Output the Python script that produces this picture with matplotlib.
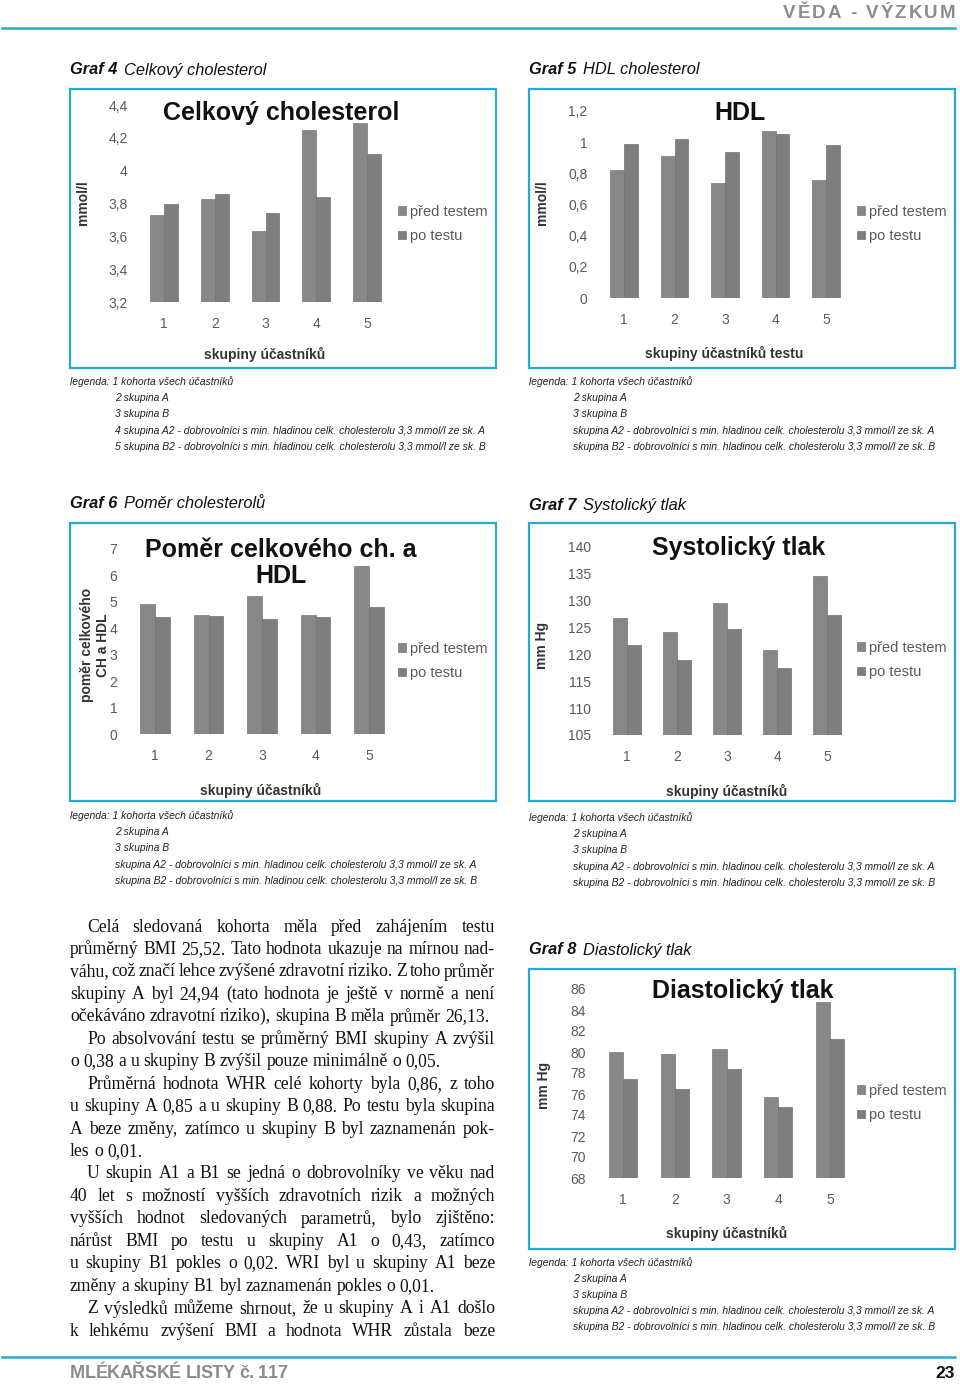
import matplotlib
matplotlib.use('Agg')
import matplotlib.pyplot as plt
from matplotlib.patches import Rectangle
from matplotlib.lines import Line2D
from matplotlib import font_manager

# ---------------- data ----------------
groups = [1, 2, 3, 4, 5]
series_labels = ['před testem', 'po testu']

chol_pre = [3.73, 3.83, 3.63, 4.25, 4.29]
chol_post = [3.80, 3.86, 3.74, 3.84, 4.10]
chol_ticks = [3.2, 3.4, 3.6, 3.8, 4.0, 4.2, 4.4]

hdl_pre = [0.82, 0.91, 0.74, 1.07, 0.76]
hdl_post = [0.99, 1.02, 0.94, 1.05, 0.98]
hdl_ticks = [0.0, 0.2, 0.4, 0.6, 0.8, 1.0, 1.2]

ratio_pre = [4.92, 4.51, 5.23, 4.51, 6.37]
ratio_post = [4.42, 4.45, 4.36, 4.42, 4.79]
ratio_ticks = [0, 1, 2, 3, 4, 5, 6, 7]

sys_pre = [126.6, 124.1, 129.4, 120.7, 134.4]
sys_post = [121.7, 118.9, 124.6, 117.5, 127.3]
sys_ticks = [105, 110, 115, 120, 125, 130, 135, 140]

dia_pre = [80.0, 79.8, 80.3, 75.7, 84.8]
dia_post = [77.4, 76.5, 78.4, 74.8, 81.2]
dia_ticks = [68, 70, 72, 74, 76, 78, 80, 82, 84, 86]

legend_lines_5 = ['legenda: 1 kohorta všech účastníků', '2 skupina A', '3 skupina B',
                  '4 skupina A2 - dobrovolníci s min. hladinou celk. cholesterolu 3,3 mmol/l ze sk. A',
                  '5 skupina B2 - dobrovolníci s min. hladinou celk. cholesterolu 3,3 mmol/l ze sk. B']
legend_lines = ['legenda: 1 kohorta všech účastníků', '2 skupina A', '3 skupina B',
                'skupina A2 - dobrovolníci s min. hladinou celk. cholesterolu 3,3 mmol/l ze sk. A',
                'skupina B2 - dobrovolníci s min. hladinou celk. cholesterolu 3,3 mmol/l ze sk. B']

body_lines = [
    ("Celá sledovaná kohorta měla před zahájením testu", True, True),
    ("průměrný BMI 25,52. Tato hodnota ukazuje na mírnou nad-", False, True),
    ("váhu, což značí lehce zvýšené zdravotní riziko. Z toho průměr", False, True),
    ("skupiny A byl 24,94 (tato hodnota je ještě v normě a není", False, True),
    ("očekáváno zdravotní riziko), skupina B měla průměr 26,13.", False, False),
    ("Po absolvování testu se průměrný BMI skupiny A zvýšil", True, True),
    ("o 0,38 a u skupiny B zvýšil pouze minimálně o 0,05.", False, False),
    ("Průměrná hodnota WHR celé kohorty byla 0,86, z toho", True, True),
    ("u skupiny A 0,85 a u skupiny B 0,88. Po testu byla skupina", False, True),
    ("A beze změny, zatímco u skupiny B byl zaznamenán pok-", False, True),
    ("les o 0,01.", False, False),
    ("U skupin A1 a B1 se jedná o dobrovolníky ve věku nad", True, True),
    ("40 let s možností vyšších zdravotních rizik a možných", False, True),
    ("vyšších hodnot sledovaných parametrů, bylo zjištěno:", False, True),
    ("nárůst BMI po testu u skupiny A1 o 0,43, zatímco", False, True),
    ("u skupiny B1 pokles o 0,02. WRI byl u skupiny A1 beze", False, True),
    ("změny a skupiny B1 byl zaznamenán pokles o 0,01.", False, False),
    ("Z výsledků můžeme shrnout, že u skupiny A i A1 došlo", True, True),
    ("k lehkému zvýšení BMI a hodnota WHR zůstala beze", False, True),
]

# ---------------- setup ----------------
W, H = 960, 1384
fig = plt.figure(figsize=(9.6, 13.84), dpi=100)
fig.patch.set_facecolor('white')
renderer = fig.canvas.get_renderer()

BLUE = '#2aa8d2'
SANS = ['Liberation Sans', 'DejaVu Sans']
SERIF = ['Liberation Serif', 'DejaVu Serif']
NARROW = SANS
try:
    font_manager.findfont(font_manager.FontProperties(family='Liberation Sans Narrow'),
                          fallback_to_default=False)
    NARROW = ['Liberation Sans Narrow', 'Liberation Sans', 'DejaVu Sans']
except Exception:
    pass


def fx(x):
    return x / W


def fy(y):
    return 1 - y / H


def width_px(t):
    return t.get_window_extent(renderer).width


# fit the small legend font so its longest line spans ~375 px
_probe = fig.text(0, 0, legend_lines_5[3], family=NARROW, fontsize=10, style='italic')
NARROW_SIZE = min(9.5, 10 * 374.0 / width_px(_probe))
_probe.remove()


def tracked(text, x_left, x_right, y, **kw):
    arts = [fig.text(0, fy(y), ch, va='center', ha='left', **kw) for ch in text]
    ws = [width_px(a) for a in arts]
    gap = (x_right - x_left - sum(ws)) / (len(arts) - 1)
    x = x_left
    for a, w in zip(arts, ws):
        a.set_x(fx(x))
        x += w + gap


def line_text(text, x_left, x_right, y, justify, **kw):
    words = text.split(' ')
    arts = [fig.text(0, fy(y), w, va='center', ha='left', **kw) for w in words]
    ws = [width_px(a) for a in arts]
    t1 = fig.text(0, 0, 'a a', **kw)
    t2 = fig.text(0, 0, 'aa', **kw)
    space = width_px(t1) - width_px(t2)
    t1.remove()
    t2.remove()
    if justify and len(words) > 1:
        gap = (x_right - x_left - sum(ws)) / (len(words) - 1)
    else:
        gap = space
    x = x_left
    for a, w in zip(arts, ws):
        a.set_x(fx(x))
        x += w + gap


# ---------------- header / footer ----------------
fig.add_artist(Line2D([fx(2), fx(955)], [fy(28), fy(28)], color=BLUE, lw=1.8,
                      transform=fig.transFigure))
tracked('VĚDA - VÝZKUM', 783, 955, 14, family=SANS, fontsize=13.5, fontweight='bold', color='#8c8c8c')

fig.add_artist(Line2D([fx(2), fx(955)], [fy(1357), fy(1357)], color=BLUE, lw=1.8,
                      transform=fig.transFigure))
tracked('MLÉKAŘSKÉ LISTY č. 117', 70, 287, 1374, family=SANS, fontsize=13, fontweight='bold', color='#8c8c8c')
fig.text(fx(955), fy(1374), '23', ha='right', va='center', family=SANS, fontsize=12.5,
         fontweight='bold', color='#111111')


# ---------------- charts ----------------
def fmt(v):
    return ('%g' % v).replace('.', ',')


def graf_title(num, name, x, y):
    t = fig.text(fx(x), fy(y), 'Graf %d' % num, va='center', ha='left', family=SANS,
                 fontsize=11.8, fontweight='bold', style='italic', color='#111111')
    w = width_px(t)
    fig.text(fx(x + w + 7), fy(y), name, va='center', ha='left', family=SANS,
             fontsize=11.8, style='italic', color='#111111')


def chart(box, c1, c5, ybot, ytop, pre, post, ticks, title, title_xy, xlabel, xlabel_xy,
          ylabel, ylabel_xy, legend_xy, title_ls=1.2):
    x0, y0, x1, y1 = box
    fig.add_artist(Rectangle((fx(x0), fy(y1)), (x1 - x0) / W, (y1 - y0) / H, fill=False,
                             ec=BLUE, lw=1.6, transform=fig.transFigure))
    sp = (c5 - c1) / 4.0
    left = c1 - sp / 2
    right = c5 + sp / 2
    ax = fig.add_axes([fx(left), fy(ybot), (right - left) / W, (ybot - ytop) / H])
    ax.set_facecolor('none')
    w = 0.275
    xs = list(groups)
    b1 = ax.bar([x - w / 2 for x in xs], pre, w, color='#878787', edgecolor='#7a7a7a', lw=0.5,
                label=series_labels[0])
    b2 = ax.bar([x + w / 2 for x in xs], post, w, color='#7e7e7e', edgecolor='#717171', lw=0.5,
                label=series_labels[1])
    ax.set_xlim(0.5, 5.5)
    ax.set_ylim(ticks[0], ticks[-1])
    ax.set_xticks(xs)
    ax.set_xticklabels([str(g) for g in groups])
    ax.set_yticks(ticks)
    ax.set_yticklabels([fmt(t) for t in ticks])
    for s in ax.spines.values():
        s.set_visible(False)
    ax.tick_params(axis='both', length=0, labelsize=10, labelcolor='#5a5a5a')
    ax.tick_params(axis='x', pad=11)
    ax.tick_params(axis='y', pad=8)
    for lab in ax.get_xticklabels() + ax.get_yticklabels():
        lab.set_family(SANS)
    fig.text(fx(title_xy[0]), fy(title_xy[1]), title, ha='center', va='center', family=SANS,
             fontsize=18, fontweight='bold', color='#111111', linespacing=title_ls)
    fig.text(fx(xlabel_xy[0]), fy(xlabel_xy[1]), xlabel, ha='center', va='center', family=SANS,
             fontsize=10, fontweight='bold', color='#333333')
    fig.text(fx(ylabel_xy[0]), fy(ylabel_xy[1]), ylabel, ha='center', va='center', family=SANS,
             fontsize=10, fontweight='bold', color='#333333', rotation=90, linespacing=1.1)
    ax.legend(handles=[b1, b2], loc='center left', bbox_to_anchor=(fx(legend_xy[0]), fy(legend_xy[1])),
              bbox_transform=fig.transFigure, frameon=False, prop={'family': SANS, 'size': 10.5},
              labelcolor='#5a5a5a', handlelength=0.55, handleheight=0.55, handletextpad=0.25,
              labelspacing=0.7, borderpad=0, borderaxespad=0)
    return ax


def legend_block(lines, x, xi, y0, step=16.2):
    for i, s in enumerate(lines):
        fig.text(fx(x if i == 0 else xi), fy(y0 + i * step), s, ha='left', va='center',
                 family=NARROW, fontsize=NARROW_SIZE, style='italic', color='#222222')


# Graf 4
graf_title(4, 'Celkový cholesterol', 70, 70)
chart((70, 89, 496, 368), 164, 367, 302, 105, chol_pre, chol_post, chol_ticks,
      'Celkový cholesterol', (281, 113), 'skupiny účastníků', (265, 354),
      'mmol/l', (83, 203), (398, 224))
legend_block(legend_lines_5, 70, 115, 382)

# Graf 5
graf_title(5, 'HDL cholesterol', 529, 70)
chart((529, 89, 955, 368), 624, 826, 298, 111, hdl_pre, hdl_post, hdl_ticks,
      'HDL', (740, 113), 'skupiny účastníků testu', (724, 353),
      'mmol/l', (542, 203), (857, 224))
legend_block(legend_lines, 529, 573, 382)

# Graf 6
graf_title(6, 'Poměr cholesterolů', 70, 503)
chart((70, 523, 496, 801), 155, 369, 734, 549, ratio_pre, ratio_post, ratio_ticks,
      'Poměr celkového ch. a\nHDL', (281, 563), 'skupiny účastníků', (261, 790),
      'poměr celkového\nCH a HDL', (95, 645), (398, 661), title_ls=1.12)
legend_block(legend_lines, 70, 115, 816)

# Graf 7
graf_title(7, 'Systolický tlak', 529, 505)
chart((529, 523, 955, 801), 627, 827, 735, 546, sys_pre, sys_post, sys_ticks,
      'Systolický tlak', (739, 548), 'skupiny účastníků', (727, 791),
      'mm Hg', (542, 645), (857, 660))
legend_block(legend_lines, 529, 573, 818)

# Graf 8
graf_title(8, 'Diastolický tlak', 529, 950)
chart((529, 969, 955, 1249), 623, 830, 1178, 989, dia_pre, dia_post, dia_ticks,
      'Diastolický tlak', (743, 991), 'skupiny účastníků', (727, 1233),
      'mm Hg', (544, 1085), (857, 1103))
legend_block(legend_lines, 529, 573, 1263, step=16.0)

# ---------------- body text ----------------
y = 927
for text, indent, justify in body_lines:
    line_text(text, 87 if indent else 70, 495, y, justify, family=SERIF, fontsize=12.7,
              color='#111111')
    y += 22.45

fig.savefig('out.png', dpi=100, facecolor='white')
